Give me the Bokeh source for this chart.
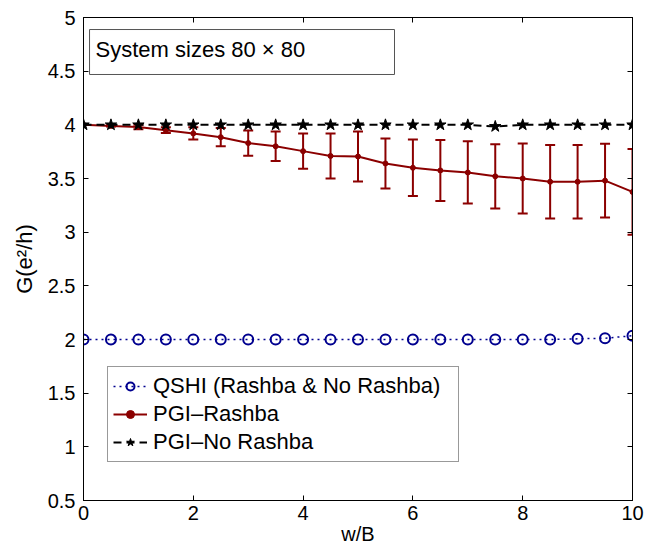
from bokeh.plotting import figure
from bokeh.models import (ColumnDataSource, Whisker, TeeHead, Legend, LegendItem,
                          LinearAxis, FixedTicker, NumeralTickFormatter, BoxAnnotation,
                          Label, Range1d, CustomJSTickFormatter)
from bokeh.embed import file_html
from bokeh.resources import INLINE

# ---- data ----
w_over_B = [0.0, 0.5, 1.0, 1.5, 2.0, 2.5, 3.0, 3.5, 4.0, 4.5, 5.0,
            5.5, 6.0, 6.5, 7.0, 7.5, 8.0, 8.5, 9.0, 9.5, 10.0]
qshi = [2.0, 2.0, 2.0, 2.0, 2.0, 2.0, 2.0, 2.0, 2.0, 2.0, 2.0,
        2.0, 2.0, 2.0, 2.0, 2.0, 2.0, 2.0, 2.006, 2.012, 2.035]
pgi_rashba = [4.00, 3.99, 3.98, 3.95, 3.92, 3.885, 3.83, 3.80, 3.755, 3.71, 3.705,
              3.64, 3.60, 3.575, 3.556, 3.52, 3.50, 3.47, 3.47, 3.48, 3.375]
pgi_rashba_err = [0.0, 0.005, 0.02, 0.027, 0.057, 0.085, 0.117, 0.137, 0.165, 0.21, 0.233,
                  0.233, 0.264, 0.284, 0.29, 0.30, 0.325, 0.343, 0.343, 0.343, 0.40]
pgi_no_rashba = [4.0, 4.0, 4.0, 4.0, 4.0, 4.0, 4.0, 4.0, 4.0, 4.0, 4.0,
                 4.0, 4.0, 4.0, 4.0, 3.985, 4.0, 4.0, 4.0, 4.0, 4.0]
x_ticks = [0, 2, 4, 6, 8, 10]
y_ticks = [0.5, 1, 1.5, 2, 2.5, 3, 3.5, 4, 4.5, 5]
series_labels = ["QSHI (Rashba & No Rashba)", "PGI\u2013Rashba", "PGI\u2013No Rashba"]
title_text = "System sizes 80 \u00d7 80"
x_label = "w/B"
y_label = "G(e\u00b2/h)"

FONT = "Liberation Sans"
BLUE = "#00008f"
RED = "#8b0000"

src = ColumnDataSource(dict(
    w=w_over_B, qshi=qshi, r=pgi_rashba,
    lo=[v - e for v, e in zip(pgi_rashba, pgi_rashba_err)],
    hi=[v + e for v, e in zip(pgi_rashba, pgi_rashba_err)],
    nr=pgi_no_rashba,
))

p = figure(width=659, height=550, x_range=Range1d(0, 10), y_range=Range1d(0.5, 5),
           output_backend="svg", toolbar_location=None,
           min_border_left=83, min_border_right=27, min_border_top=17, min_border_bottom=50)
p.xgrid.visible = False
p.ygrid.visible = False
p.outline_line_color = "black"
p.background_fill_color = "white"

bottom_axis = p.xaxis[0]
left_axis = p.yaxis[0]

bottom_axis.ticker = FixedTicker(ticks=x_ticks)
left_axis.ticker = FixedTicker(ticks=y_ticks)
left_axis.formatter = NumeralTickFormatter(format="0.[0]")
bottom_axis.formatter = NumeralTickFormatter(format="0")

right_axis = LinearAxis(ticker=FixedTicker(ticks=y_ticks),
                        formatter=CustomJSTickFormatter(code="return ''"))
top_axis = LinearAxis(ticker=FixedTicker(ticks=x_ticks),
                      formatter=CustomJSTickFormatter(code="return ''"))
p.add_layout(right_axis, "right")
p.add_layout(top_axis, "above")

for ax in [bottom_axis, left_axis, right_axis, top_axis]:
    ax.major_tick_in = 5
    ax.major_tick_out = 0
    ax.minor_tick_line_color = None
    ax.axis_line_color = "black"
    ax.major_tick_line_color = "black"
    ax.major_label_text_font = FONT
    ax.major_label_text_font_size = "20px"
    ax.major_label_text_color = "black"
for ax in [right_axis, top_axis]:
    ax.major_label_standoff = 0
    ax.major_label_text_font_size = "1px"

bottom_axis.major_label_standoff = 5
bottom_axis.axis_label = x_label
bottom_axis.axis_label_text_font = FONT
bottom_axis.axis_label_text_font_size = "20px"
bottom_axis.axis_label_text_font_style = "normal"
bottom_axis.axis_label_text_color = "black"
bottom_axis.axis_label_standoff = 0

left_axis.major_label_standoff = 8
left_axis.axis_label = y_label
left_axis.axis_label_text_font = FONT
left_axis.axis_label_text_font_size = "22px"
left_axis.axis_label_text_font_style = "normal"
left_axis.axis_label_text_color = "black"
left_axis.axis_label_standoff = 8

# ---- series ----
blue_line = p.line("w", "qshi", source=src, line_color=BLUE, line_dash="2 4", line_width=1.5)
blue_pts = p.scatter("w", "qshi", source=src, marker="circle", size=10,
                     fill_color=None, line_color=BLUE, line_width=2)

red_line = p.line("w", "r", source=src, line_color=RED, line_width=2)
red_pts = p.scatter("w", "r", source=src, marker="circle", size=5,
                    fill_color=RED, line_color=RED)
whisker = Whisker(base="w", upper="hi", lower="lo", source=src,
                  line_color=RED, line_width=2,
                  upper_head=TeeHead(size=10, line_color=RED, line_width=2),
                  lower_head=TeeHead(size=10, line_color=RED, line_width=2))
p.add_layout(whisker)

black_line = p.line("w", "nr", source=src, line_color="black", line_dash="8 5", line_width=2)
black_pts = p.scatter("w", "nr", source=src, marker="star", size=12,
                      fill_color="black", line_color="black")

# ---- title box ----
box = BoxAnnotation(left=0.11, right=5.665, top=4.888, bottom=4.469,
                    fill_color="white", fill_alpha=1.0,
                    line_color="#555555", line_alpha=1.0, line_width=1)
p.add_layout(box)
p.add_layout(Label(x=0.22, y=4.70, text=title_text, text_font=FONT,
                   text_font_size="22px", text_baseline="middle", text_color="black"))

# ---- legend ----
legend = Legend(items=[
    LegendItem(label=series_labels[0], renderers=[blue_line, blue_pts]),
    LegendItem(label=series_labels[1], renderers=[red_line, red_pts]),
    LegendItem(label=series_labels[2], renderers=[black_line, black_pts]),
], location=(24, 38))
legend.glyph_width = 34
legend.glyph_height = 20
legend.label_height = 28
legend.label_width = 300
legend.label_standoff = 6
legend.padding = 5
legend.spacing = 0
legend.margin = 0
legend.border_line_color = "#333333"
legend.border_line_width = 1
legend.background_fill_alpha = 1.0
legend.label_text_font = FONT
legend.label_text_font_size = "22px"
legend.label_text_color = "black"
p.add_layout(legend)

open("out.html", "w").write(file_html(p, INLINE))
